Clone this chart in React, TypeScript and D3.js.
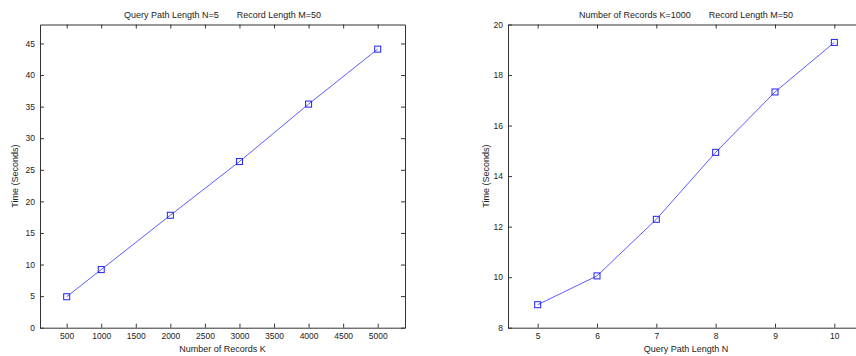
import { useRef, useEffect } from "react";
import { select, scaleLinear, axisBottom, axisLeft, axisTop, axisRight, line } from "d3";

// left panel: time vs number of records
const recordCounts = [500, 1000, 2000, 3000, 4000, 5000];
const recordTimes = [4.9, 9.2, 17.8, 26.3, 35.4, 44.1];
const recordTicksX = [500, 1000, 1500, 2000, 2500, 3000, 3500, 4000, 4500, 5000];
const recordTicksY = [0, 5, 10, 15, 20, 25, 30, 35, 40, 45];

// right panel: time vs query path length
const pathLengths = [5, 6, 7, 8, 9, 10];
const pathTimes = [8.91, 10.05, 12.29, 14.94, 17.33, 19.29];
const pathTicksX = [5, 6, 7, 8, 9, 10];
const pathTicksY = [8, 10, 12, 14, 16, 18, 20];

const FONT = "'Liberation Sans', Arial, sans-serif";
const AXIS = "#333";
const TEXT = "#222";
const TOP = 24.5;
const BOTTOM = 327.7;

type PanelProps = {
    left: number;
    right: number;
    xDomain: [number, number];
    yDomain: [number, number];
    xs: number[];
    ys: number[];
    xTicks: number[];
    yTicks: number[];
    title: [string, string];
    xLabel: string;
    yLabelX: number;
};

function Panel({ left, right, xDomain, yDomain, xs, ys, xTicks, yTicks, title, xLabel, yLabelX }: PanelProps) {
    const gRef = useRef<SVGGElement>(null);

    useEffect(() => {
        const g = select(gRef.current);
        g.selectAll("*").remove();

        const x = scaleLinear().domain(xDomain).range([left, right]);
        const y = scaleLinear().domain(yDomain).range([BOTTOM, TOP]);

        const style = (sel: any) => {
            sel.selectAll("path").attr("stroke", AXIS);
            sel.selectAll("line").attr("stroke", AXIS);
            sel.selectAll("text").attr("fill", TEXT).style("font-family", FONT).style("font-size", "8.5px");
            sel.attr("font-size", null).attr("font-family", null);
        };

        g.append("g")
            .attr("transform", `translate(0,${BOTTOM})`)
            .call(axisBottom(x).tickValues(xTicks).tickSize(-4).tickSizeOuter(0).tickPadding(5).tickFormat((d) => String(d)))
            .call(style);
        g.append("g")
            .attr("transform", `translate(0,${TOP})`)
            .call(axisTop(x).tickValues(xTicks).tickSize(-4).tickSizeOuter(0).tickFormat(() => ""))
            .call(style);
        g.append("g")
            .attr("transform", `translate(${left},0)`)
            .call(axisLeft(y).tickValues(yTicks).tickSize(-4).tickSizeOuter(0).tickPadding(5).tickFormat((d) => String(d)))
            .call(style);
        g.append("g")
            .attr("transform", `translate(${right},0)`)
            .call(axisRight(y).tickValues(yTicks).tickSize(-4).tickSizeOuter(0).tickFormat(() => ""))
            .call(style);

        const pts = xs.map((v, i) => [x(v), y(ys[i])] as [number, number]);
        g.append("path")
            .attr("d", line()(pts))
            .attr("fill", "none")
            .attr("stroke", "#4a4aff")
            .attr("stroke-width", 0.9);
        g.selectAll(".mk")
            .data(pts)
            .join("rect")
            .attr("class", "mk")
            .attr("x", (d) => d[0] - 3)
            .attr("y", (d) => d[1] - 3)
            .attr("width", 6)
            .attr("height", 6)
            .attr("fill", "none")
            .attr("stroke", "#2020ff")
            .attr("stroke-width", 1);

        const cx = (left + right) / 2;
        const t = g.append("text")
            .attr("x", cx)
            .attr("y", 18)
            .attr("text-anchor", "middle")
            .attr("fill", TEXT)
            .style("font-family", FONT)
            .style("font-size", "9px");
        t.append("tspan").text(title[0]);
        t.append("tspan").attr("dx", 18).text(title[1]);

        g.append("text")
            .attr("x", cx)
            .attr("y", 351.5)
            .attr("text-anchor", "middle")
            .attr("fill", TEXT)
            .style("font-family", FONT)
            .style("font-size", "9px")
            .text(xLabel);

        g.append("text")
            .attr("transform", `translate(${yLabelX},${(TOP + BOTTOM) / 2}) rotate(-90)`)
            .attr("text-anchor", "middle")
            .attr("dy", "0.35em")
            .attr("fill", TEXT)
            .style("font-family", FONT)
            .style("font-size", "9px")
            .text("Time (Seconds)");
    }, []);

    return <g ref={gRef} />;
}

export default function App() {
    return (
        <svg width={856} height={356} style={{ position: "absolute", left: 0, top: 0, background: "#fff" }}>
            <Panel
                left={40}
                right={405}
                xDomain={[114, 5395]}
                yDomain={[0, 48]}
                xs={recordCounts}
                ys={recordTimes}
                xTicks={recordTicksX}
                yTicks={recordTicksY}
                title={["Query Path Length N=5", "Record Length M=50"]}
                xLabel="Number of Records K"
                yLabelX={15}
            />
            <Panel
                left={508}
                right={864}
                xDomain={[4.5, 10.5]}
                yDomain={[8, 20]}
                xs={pathLengths}
                ys={pathTimes}
                xTicks={pathTicksX}
                yTicks={pathTicksY}
                title={["Number of Records K=1000", "Record Length M=50"]}
                xLabel="Query Path Length N"
                yLabelX={486}
            />
        </svg>
    );
}
